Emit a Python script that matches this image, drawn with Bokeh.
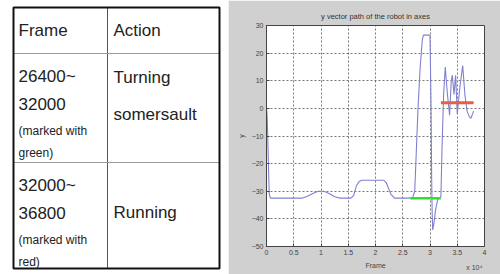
from bokeh.plotting import figure
from bokeh.layouts import row
from bokeh.models import Range1d, FixedTicker, Title
from bokeh.core.properties import value
from bokeh.embed import file_html
from bokeh.resources import INLINE

# ---------------- table content ----------------
col_headers = ["Frame", "Action"]
frame_starts = ["26400~", "32000~"]
frame_ends = ["32000", "36800"]
mark_colors = ["green", "red"]
actions = [["Turning", "somersault"], ["Running"]]

# ---------------- chart data (frames in units of 1e4) ----------------
frames = [0.00, 0.01, 0.02, 0.03, 0.04, 0.05, 0.07, 0.50, 0.65, 0.75, 0.85, 0.95,
          1.05, 1.15, 1.25, 1.35, 1.55, 1.60, 1.65, 1.70, 1.75, 2.15, 2.20, 2.28,
          2.35, 2.60, 2.68, 2.72, 2.75, 2.78, 2.82, 2.86, 2.88, 3.00, 3.02, 3.03,
          3.04, 3.05, 3.07, 3.10, 3.14, 3.20, 3.22, 3.25, 3.28, 3.32, 3.36, 3.39,
          3.41, 3.44, 3.47, 3.50, 3.55, 3.60, 3.64, 3.68, 3.72, 3.75, 3.80]
y_path = [0.0, -2.0, -8.0, -16.0, -24.0, -31.0, -32.5, -32.5, -32.5, -31.8, -30.8, -30.0,
          -30.0, -30.8, -32.0, -32.5, -32.5, -31.5, -28.0, -26.5, -26.0, -26.0, -27.0, -31.0,
          -32.5, -32.5, -32.3, -30.0, -15.0, 0.0, 15.0, 25.0, 26.5, 26.5, 0.0, -25.0,
          -38.0, -44.0, -42.0, -37.0, -33.0, -32.0, -15.0, 5.0, 15.0, 5.0, -2.5, 10.0,
          12.0, 5.0, 12.0, -2.0, 8.0, 15.5, 5.0, -1.0, -3.0, -3.6, -1.0]
green_x = [2.64, 3.20]
green_y = [-32.5, -32.5]
red_x = [3.20, 3.80]
red_y = [2.0, 2.0]

x_ticks = [0, 0.5, 1, 1.5, 2, 2.5, 3, 3.5, 4]
x_tick_labels = ["0", "0.5", "1", "1.5", "2", "2.5", "3", "3.5", "4"]
y_ticks = [-50, -40, -30, -20, -10, 0, 10, 20, 30]
x_exponent = "x 10⁴"

FONT = "Liberation Sans"

# ---------------- table figure ----------------
t = figure(frame_width=228, frame_height=274, x_range=Range1d(0, 228), y_range=Range1d(274, 0),
           x_axis_type=None, y_axis_type=None,
           output_backend="svg", toolbar_location=None,
           min_border=0, min_border_left=0, min_border_right=0,
           min_border_top=0, min_border_bottom=0)
t.frame_align = False
t.title.visible = False
t.grid.visible = False
t.outline_line_color = None

L, R, T, B = 13, 219, 7, 268
col_split = 107
row_splits = [53, 162]
t.segment(x0=[col_split], y0=[T], x1=[col_split], y1=[B], line_color="#555", line_width=1)
t.segment(x0=[L, L], y0=row_splits, x1=[R, R], y1=row_splits, line_color="#999", line_width=1)
t.quad(left=[L], right=[R], top=[T], bottom=[B], fill_color=None, line_color="#111", line_width=2)

big = "17px"
small = "12px"
tx1, tx2 = 18, 113
t.text(x=[tx1, tx2], y=[30, 30], text=col_headers, text_font=value(FONT),
       text_font_size=big, text_color="#222", text_baseline="alphabetic")
for i in range(2):
    top = row_splits[i]
    t.text(x=[tx1, tx1], y=[top + 23, top + 50], text=[frame_starts[i], frame_ends[i]],
           text_font=value(FONT), text_font_size=big, text_color="#222",
           text_baseline="alphabetic")
    t.text(x=[tx1, tx1], y=[top + 77, top + 99],
           text=["(marked with", mark_colors[i] + ")"],
           text_font=value(FONT), text_font_size=small, text_color="#222",
           text_baseline="alphabetic")
    lines = actions[i]
    offs = [24, 61] if len(lines) == 2 else [50]
    t.text(x=[tx2] * len(lines), y=[top + o for o in offs], text=lines,
           text_font=value(FONT), text_font_size=big, text_color="#222",
           text_baseline="alphabetic")

# ---------------- chart figure ----------------
p = figure(width=272, height=274, x_range=Range1d(0, 4), y_range=Range1d(-50, 30),
           output_backend="svg", toolbar_location=None,
           title="y vector path of the robot in axes",
           min_border_left=38, min_border_right=16, min_border_top=25, min_border_bottom=28)
p.frame_align = False
p.border_fill_color = "#d0d0d0"
p.background_fill_color = "white"
p.outline_line_color = "#444"
p.title.text_font = FONT
p.title.text_font_size = "7.5px"
p.title.text_font_style = "normal"
p.title.text_color = "#333"
p.title.align = "center"
p.title.standoff = 9

p.xaxis.ticker = FixedTicker(ticks=x_ticks)
p.xaxis.major_label_overrides = {k: v for k, v in zip(x_ticks, x_tick_labels)}
p.yaxis.ticker = FixedTicker(ticks=y_ticks)
for ax in (p.xaxis, p.yaxis):
    ax.major_tick_in = 3
    ax.major_tick_out = 0
    ax.minor_tick_line_color = None
    ax.axis_line_color = "#444"
    ax.major_tick_line_color = "#444"
    ax.major_label_text_font = FONT
    ax.major_label_text_font_size = "7px"
    ax.major_label_text_color = "#444"
    ax.major_label_standoff = 3
    ax.axis_label_text_font = FONT
    ax.axis_label_text_font_size = "7px"
    ax.axis_label_text_font_style = "normal"
    ax.axis_label_text_color = "#444"
    ax.axis_label_standoff = 4
p.xaxis.axis_label = "Frame"
p.yaxis.axis_label = "y"

p.grid.grid_line_color = "#555"
p.grid.grid_line_dash = "2 2"
p.grid.grid_line_alpha = 0.8

p.line(frames, y_path, line_color="#8080d0", line_width=1.1)
p.line(green_x, green_y, line_color="#33dd33", line_width=2.5)
p.line(red_x, red_y, line_color="#e8603c", line_width=3)

p.add_layout(Title(text=x_exponent, align="right", vertical_align="top", standoff=-16, offset=2,
                   text_font=FONT, text_font_size="7px", text_font_style="normal",
                   text_color="#444"), "below")

layout = row(t, p, spacing=0)
open("out.html", "w").write(file_html(layout, INLINE))
